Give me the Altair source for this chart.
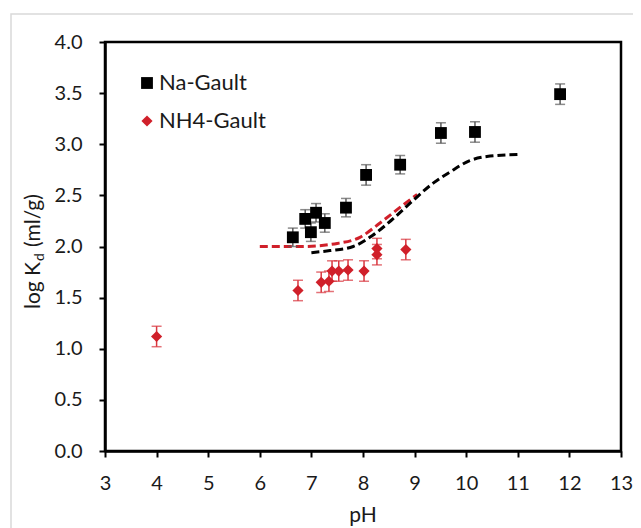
import altair as alt
import pandas as pd

# ---- data ----
na_ph = [6.64, 6.88, 6.99, 7.09, 7.26, 7.67, 8.06, 8.72, 9.51, 10.17, 11.82]
na_logkd = [2.09, 2.27, 2.14, 2.33, 2.23, 2.38, 2.70, 2.80, 3.11, 3.12, 3.49]
na_err = [0.09, 0.09, 0.09, 0.09, 0.09, 0.09, 0.10, 0.09, 0.10, 0.10, 0.10]

nh4_ph = [4.0, 6.74, 7.19, 7.34, 7.40, 7.53, 7.71, 8.02, 8.27, 8.27, 8.83]
nh4_logkd = [1.12, 1.57, 1.65, 1.66, 1.76, 1.76, 1.77, 1.76, 1.98, 1.92, 1.97]
nh4_err = [0.10, 0.10, 0.10, 0.10, 0.10, 0.10, 0.10, 0.10, 0.10, 0.10, 0.10]

na_fit_ph = [7.0, 7.36, 7.81, 8.19, 8.58, 8.97, 9.36, 9.69, 10.07, 10.40, 11.0]
na_fit = [1.94, 1.96, 2.00, 2.11, 2.27, 2.45, 2.62, 2.73, 2.84, 2.88, 2.90]

nh4_fit_ph = [6.0, 6.8, 7.5, 7.94, 8.33, 8.66, 9.05]
nh4_fit = [2.00, 2.00, 2.03, 2.09, 2.23, 2.36, 2.51]

series_names = ["Na-Gault", "NH4-Gault"]
x_ticks = [3, 4, 5, 6, 7, 8, 9, 10, 11, 12, 13]
y_ticks = [0.0, 0.5, 1.0, 1.5, 2.0, 2.5, 3.0, 3.5, 4.0]

RED = "#d0202a"
FONT = "Lato"

na_df = pd.DataFrame({"pH": na_ph, "logKd": na_logkd, "err": na_err, "series": series_names[0]})
nh4_df = pd.DataFrame({"pH": nh4_ph, "logKd": nh4_logkd, "err": nh4_err, "series": series_names[1]})
for d in (na_df, nh4_df):
    d["lo"] = d["logKd"] - d["err"]
    d["hi"] = d["logKd"] + d["err"]
pts = pd.concat([na_df, nh4_df], ignore_index=True)

xs = alt.Scale(domain=[3, 13], nice=False)
ys = alt.Scale(domain=[0, 4], nice=False)

X = alt.X("pH:Q", scale=xs, axis=alt.Axis(values=x_ticks, title="", format="d", labelFlush=False))
Y = alt.Y("logKd:Q", scale=ys, axis=alt.Axis(values=y_ticks, title="", format=".1f", labelFlush=False))

dummy = pd.DataFrame({"k": [0]})

border = alt.Chart(dummy).mark_rect(fillOpacity=0, stroke="#d9d9d9", strokeWidth=1.5).encode(
    x=alt.value(-94), x2=alt.value(700), y=alt.value(-28), y2=alt.value(600)
)

fit_na = alt.Chart(pd.DataFrame({"pH": na_fit_ph, "logKd": na_fit})).mark_line(
    color="black", strokeWidth=3, strokeDash=[8, 4], interpolate="monotone"
).encode(x=X, y=Y)
fit_nh4 = alt.Chart(pd.DataFrame({"pH": nh4_fit_ph, "logKd": nh4_fit})).mark_line(
    color=RED, strokeWidth=3, strokeDash=[8, 4], interpolate="monotone"
).encode(x=X, y=Y)

def errs(df, color):
    base = alt.Chart(df)
    r = base.mark_rule(color=color, strokeWidth=1.5).encode(
        x=X, y=alt.Y("lo:Q", scale=ys), y2="hi:Q")
    t1 = base.mark_tick(color=color, orient="horizontal", size=10, thickness=1.5).encode(
        x=X, y=alt.Y("lo:Q", scale=ys))
    t2 = base.mark_tick(color=color, orient="horizontal", size=10, thickness=1.5).encode(
        x=X, y=alt.Y("hi:Q", scale=ys))
    return r + t1 + t2

err_na = errs(na_df, "#5a5a5a")
err_nh4 = errs(nh4_df, "#d9363e")

leg = alt.Legend(
    title=None, orient="none", legendX=31, legendY=30, padding=0,
    labelFont=FONT, labelFontSize=22, labelColor="#1a1a1a", symbolSize=110,
    labelOffset=1, rowPadding=16, symbolStrokeWidth=0,
)

points = alt.Chart(pts).mark_point(filled=True, opacity=1).encode(
    x=X, y=Y,
    color=alt.Color("series:N", scale=alt.Scale(domain=series_names, range=["black", RED]), legend=leg),
    shape=alt.Shape("series:N", scale=alt.Scale(domain=series_names, range=["square", "diamond"]), legend=leg),
    size=alt.Size("series:N", scale=alt.Scale(domain=series_names, range=[140, 125]), legend=None),
)

def label(text, x, y, size, align, angle=270):
    return alt.Chart(dummy).mark_text(
        text=text, font=FONT, fontSize=size, align=align, baseline="alphabetic",
        angle=angle, color="#1a1a1a"
    ).encode(x=alt.value(x), y=alt.value(y))

t_log = label("log K", -65, 220, 21, "right")
t_d = label("d", -61, 219, 14, "left")
t_unit = label("(ml/g)", -65, 205, 21, "left")
t_ph = alt.Chart(dummy).mark_text(
    text="pH", font=FONT, fontSize=21, align="center", baseline="alphabetic", color="#1a1a1a"
).encode(x=alt.value(258), y=alt.value(480))

chart = alt.layer(
    border, fit_nh4, fit_na, err_na, err_nh4, points, t_log, t_d, t_unit, t_ph
).properties(
    width=516, height=409,
    autosize=alt.AutoSizeParams(type="none"),
    padding={"left": 97, "top": 34, "right": 12, "bottom": 77},
    background="white",
).configure_view(
    stroke="black", strokeWidth=2.5
).configure_axis(
    grid=False, domainColor="black", domainWidth=2.5, tickColor="black", tickWidth=2,
    tickSize=6, labelFont=FONT, labelFontSize=20, labelColor="#1a1a1a",
).configure_axisX(
    labelBaseline="alphabetic", labelPadding=32
).configure_axisY(
    labelPadding=17
)

chart.save("out.html", embed_options={"renderer": "svg", "actions": False})
